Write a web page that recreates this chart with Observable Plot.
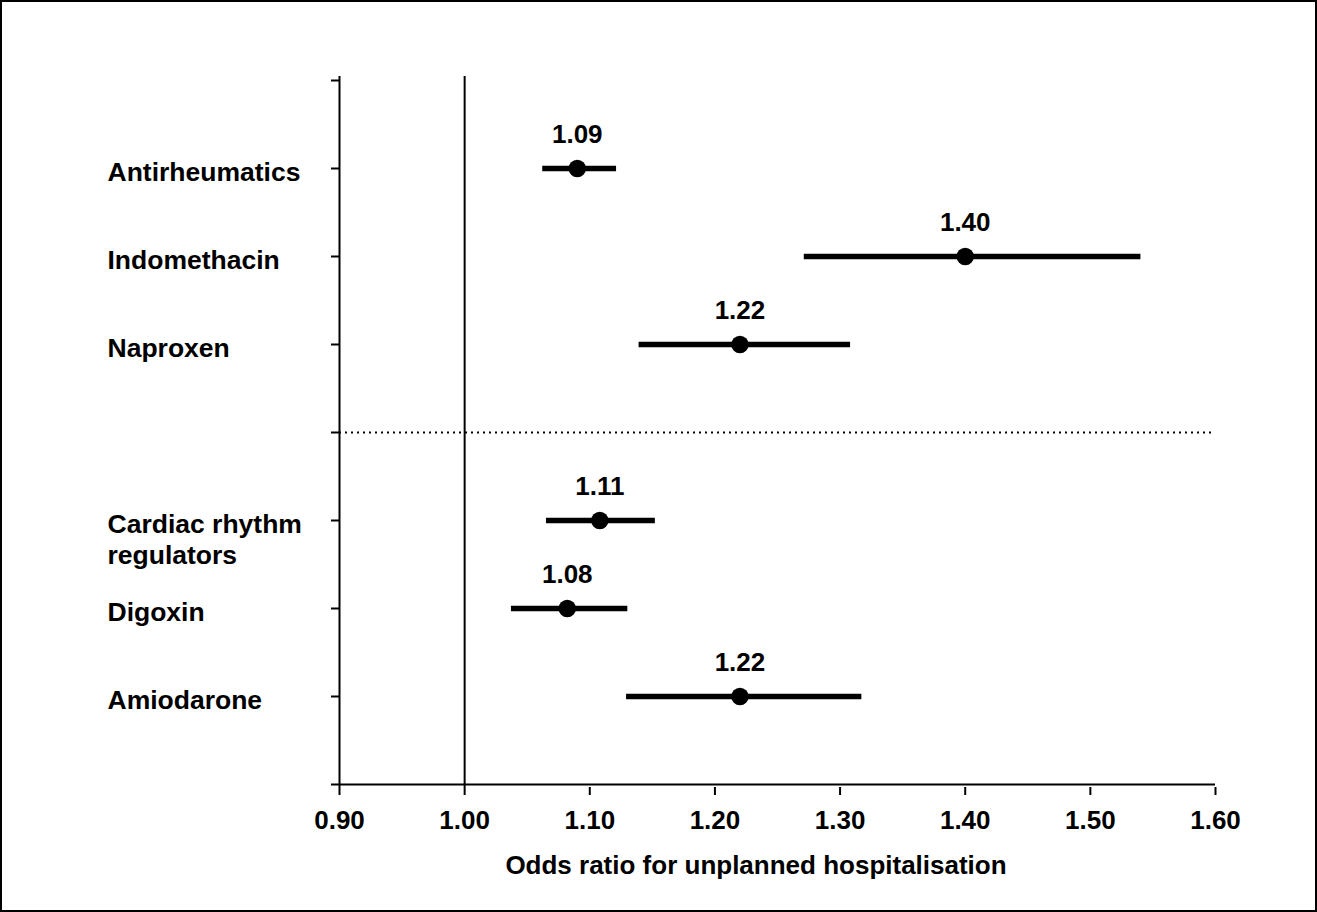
<!DOCTYPE html>
<html>
<head>
<meta charset="utf-8">
<script src="https://cdn.jsdelivr.net/npm/d3@7"></script>
<script src="https://cdn.jsdelivr.net/npm/@observablehq/plot@0.6"></script>
<style>
  html, body { margin: 0; padding: 0; background: #fff; }
  #wrap { position: relative; width: 1317px; height: 912px; overflow: hidden; }
  #chart { position: absolute; left: 0; top: 0; }
  #border { position: absolute; left: 0; top: 0; width: 1317px; height: 912px; box-sizing: border-box; border: 2px solid #000; pointer-events: none; }
</style>
</head>
<body>
<div id="wrap"><div id="chart"></div><div id="border"></div></div>
<script>
// Row order (top to bottom), with empty slots at top, between groups and at bottom
const slots = ["_top", "Antirheumatics", "Indomethacin", "Naproxen", "_sep", "Cardiac rhythm regulators", "Digoxin", "Amiodarone", "_bottom"];
const drugs = ["Antirheumatics", "Indomethacin", "Naproxen", "Cardiac rhythm regulators", "Digoxin", "Amiodarone"];
const oddsRatio = [1.09, 1.40, 1.22, 1.108, 1.082, 1.22];
const ciLow = [1.062, 1.271, 1.139, 1.065, 1.037, 1.129];
const ciHigh = [1.121, 1.540, 1.308, 1.152, 1.130, 1.317];
const xTicks = [0.90, 1.00, 1.10, 1.20, 1.30, 1.40, 1.50, 1.60];
const xDomain = [0.90, 1.60];
const refValue = 1.00;
const xTitle = "Odds ratio for unplanned hospitalisation";

const rows = drugs.map((d, i) => ({drug: d, or: oddsRatio[i], lo: ciLow[i], hi: ciHigh[i]}));
const wrapLabel = d => d === "Cardiac rhythm regulators" ? "Cardiac rhythm\nregulators" : d;

const font = "'Liberation Sans', Arial, Helvetica, sans-serif";

const chart = Plot.plot({
  width: 1317,
  height: 912,
  marginLeft: 339,
  marginRight: 102,
  marginTop: 76,
  marginBottom: 125,
  style: {fontFamily: font, background: "#fff", color: "#000"},
  x: {domain: xDomain},
  y: {type: "point", domain: slots, padding: 0},
  marks: [
    // axis lines
    Plot.ruleX([xDomain[0]], {stroke: "#000", strokeWidth: 2}),
    Plot.ruleY(["_bottom"], {stroke: "#000", strokeWidth: 2}),
    // reference line at OR = 1
    Plot.ruleX([refValue], {stroke: "#000", strokeWidth: 2}),
    // group separator
    Plot.ruleY(["_sep"], {stroke: "#000", strokeWidth: 2, strokeDasharray: "2 4"}),
    // axes
    Plot.axisX({ticks: xTicks, tickFormat: d => d.toFixed(2), tickSize: 8, tickPadding: 15,
      fontSize: 26, fontWeight: "bold", stroke: "#000", strokeWidth: 2, label: null}),
    Plot.axisY({tickSize: 8, tickFormat: () => "", stroke: "#000", strokeWidth: 2, label: null}),
    // category labels
    Plot.text(drugs, {y: d => d, text: wrapLabel, frameAnchor: "left", textAnchor: "start",
      lineAnchor: "top", dx: -232, dy: -9, lineHeight: 1.15, fontSize: 26.5, fontWeight: "bold", fill: "#000"}),
    // confidence intervals
    Plot.link(rows, {x1: "lo", x2: "hi", y1: "drug", y2: "drug", stroke: "#000", strokeWidth: 5.5}),
    // point estimates
    Plot.dot(rows, {x: "or", y: "drug", r: 8.7, fill: "#000", stroke: "none"}),
    // value labels
    Plot.text(rows, {x: "or", y: "drug", text: d => d.or.toFixed(2), dy: -34,
      fontSize: 26, fontWeight: "bold", fill: "#000"}),
    // x-axis title
    Plot.text([xTitle], {frameAnchor: "bottom", text: d => d, lineAnchor: "top", dy: 68.5, dx: -21.5,
      fontSize: 26, fontWeight: "bold", fill: "#000"})
  ]
});
document.getElementById("chart").appendChild(chart);
</script>
</body>
</html>
